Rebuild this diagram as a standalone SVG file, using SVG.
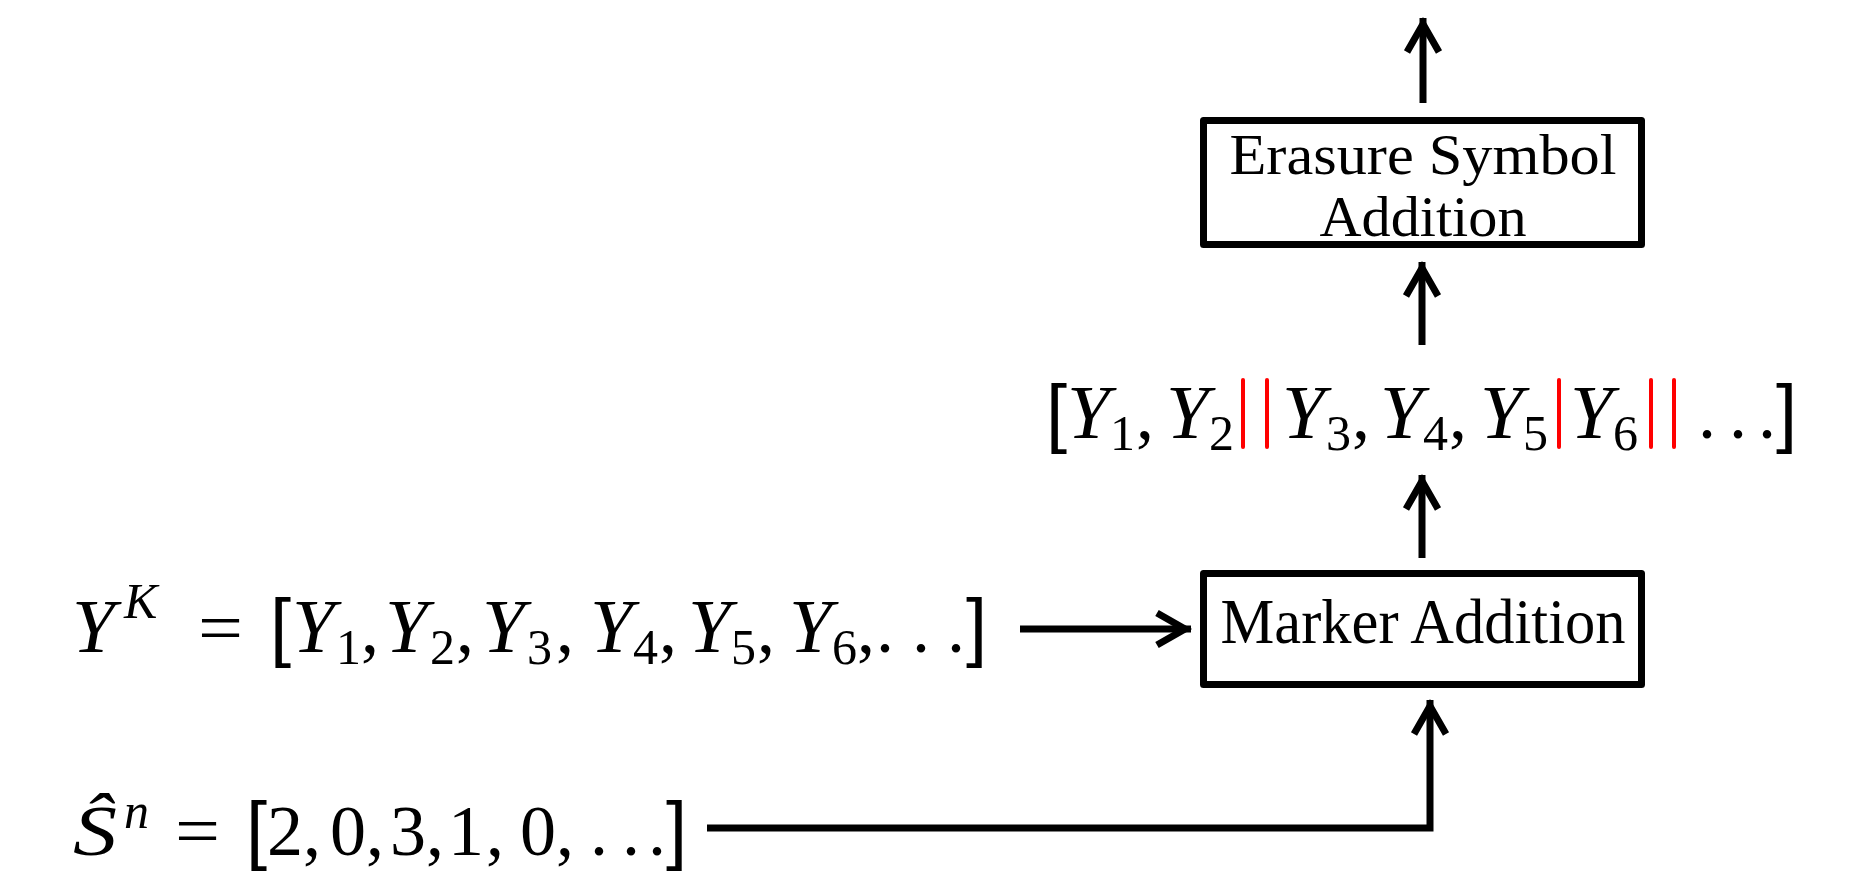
<svg xmlns="http://www.w3.org/2000/svg" width="1854" height="875" viewBox="0 0 1854 875">
<style>
  text { font-family: "Liberation Serif", "DejaVu Serif", serif; fill: #000; font-size: 72px; }
  .i { font-style: italic; }
  .y { font-style: italic; font-size: 77px; }
  .s { font-size: 50px; }
  .br { font-family: "Liberation Sans", sans-serif; font-size: 76px; }
  .lbl { font-size: 63px; text-anchor: middle; }
  .lbl2 { font-size: 56px; text-anchor: middle; }
  .box { fill: #fff; stroke: #000; stroke-width: 7; stroke-linejoin: round; }
  .c { fill: none; stroke: #000; stroke-width: 7; }
  .red { stroke: #ff0000; stroke-width: 4; stroke-linecap: round; }
</style>
<defs>
  <marker id="arr" markerUnits="userSpaceOnUse" orient="auto" overflow="visible" markerWidth="1" markerHeight="1" refX="0" refY="0">
    <path d="M-34,-16 L-6,0 L-34,16" fill="none" stroke="#000" stroke-width="7"/>
  </marker>
</defs>

<g id="connectors">
  <line class="c" x1="1423" y1="103" x2="1423" y2="18" marker-end="url(#arr)"/>
  <line class="c" x1="1422" y1="345" x2="1422" y2="262" marker-end="url(#arr)"/>
  <line class="c" x1="1422" y1="558" x2="1422" y2="475" marker-end="url(#arr)"/>
  <line class="c" x1="1020" y1="629" x2="1191" y2="629" marker-end="url(#arr)"/>
  <polyline class="c" points="707,828 1430,828 1430,700" marker-end="url(#arr)"/>
</g>

<g id="erasure">
  <rect class="box" x="1203.5" y="120.5" width="438" height="124"/>
  <text class="lbl2" x="1423" y="174" textLength="387" lengthAdjust="spacingAndGlyphs">Erasure Symbol</text>
  <text class="lbl2" x="1423" y="236" textLength="207" lengthAdjust="spacingAndGlyphs">Addition</text>
</g>

<g id="marker">
  <rect class="box" x="1203.5" y="573.5" width="438" height="111"/>
  <text class="lbl" x="1423" y="643" textLength="405" lengthAdjust="spacingAndGlyphs">Marker Addition</text>
</g>

<g id="sequence">
  <text><tspan class="br" x="1046" y="438">[</tspan><tspan class="y" x="1067" y="438">Y</tspan><tspan class="s" x="1110" y="450">1</tspan><tspan x="1136" y="438">,</tspan><tspan class="y" x="1166" y="438">Y</tspan><tspan class="s" x="1209" y="450">2</tspan><tspan class="y" x="1282" y="438">Y</tspan><tspan class="s" x="1326" y="450">3</tspan><tspan x="1352" y="438">,</tspan><tspan class="y" x="1380" y="438">Y</tspan><tspan class="s" x="1423" y="450">4</tspan><tspan x="1449" y="438">,</tspan><tspan class="y" x="1480" y="438">Y</tspan><tspan class="s" x="1523" y="450">5</tspan><tspan class="y" x="1570" y="438">Y</tspan><tspan class="s" x="1613" y="450">6</tspan><tspan x="1698" y="438">.</tspan><tspan x="1729" y="438">.</tspan><tspan x="1758" y="438">.</tspan><tspan class="br" x="1776" y="438">]</tspan></text>
  <line class="red" x1="1243" y1="380" x2="1243" y2="447"/>
  <line class="red" x1="1267" y1="380" x2="1267" y2="447"/>
  <line class="red" x1="1559" y1="380" x2="1559" y2="447"/>
  <line class="red" x1="1651" y1="380" x2="1651" y2="447"/>
  <line class="red" x1="1674" y1="380" x2="1674" y2="447"/>
</g>

<g id="yk">
  <text><tspan class="y" x="72" y="652">Y</tspan><tspan class="s i" x="124" y="618">K</tspan><tspan x="198" y="652" textLength="45" lengthAdjust="spacingAndGlyphs">=</tspan><tspan class="br" x="270" y="652">[</tspan><tspan class="y" x="292" y="652">Y</tspan><tspan class="s" x="336" y="664">1</tspan><tspan x="361" y="652">,</tspan><tspan class="y" x="385" y="652">Y</tspan><tspan class="s" x="430" y="664">2</tspan><tspan x="456" y="652">,</tspan><tspan class="y" x="482" y="652">Y</tspan><tspan class="s" x="527" y="664">3</tspan><tspan x="556" y="652">,</tspan><tspan class="y" x="590" y="652">Y</tspan><tspan class="s" x="633" y="664">4</tspan><tspan x="659" y="652">,</tspan><tspan class="y" x="688" y="652">Y</tspan><tspan class="s" x="731" y="664">5</tspan><tspan x="757" y="652">,</tspan><tspan class="y" x="789" y="652">Y</tspan><tspan class="s" x="832" y="664">6</tspan><tspan x="857" y="652">,</tspan><tspan x="876" y="652">.</tspan><tspan x="912" y="652">.</tspan><tspan x="947" y="652">.</tspan><tspan class="br" x="966" y="652">]</tspan></text>
</g>

<g id="sn">
  <text><tspan class="i" x="73" y="855" textLength="44" lengthAdjust="spacingAndGlyphs">Ŝ</tspan><tspan class="s i" x="124" y="828">n</tspan><tspan x="175" y="855" textLength="45" lengthAdjust="spacingAndGlyphs">=</tspan><tspan class="br" x="246" y="855">[</tspan><tspan x="267" y="855">2</tspan><tspan x="303" y="855">,</tspan><tspan x="330" y="855">0</tspan><tspan x="366" y="855">,</tspan><tspan x="390" y="855">3</tspan><tspan x="426" y="855">,</tspan><tspan x="448" y="855">1</tspan><tspan x="486" y="855">,</tspan><tspan x="520" y="855">0</tspan><tspan x="556" y="855">,</tspan><tspan x="590" y="855">.</tspan><tspan x="622" y="855">.</tspan><tspan x="648" y="855">.</tspan><tspan class="br" x="666" y="855">]</tspan></text>
</g>
</svg>
